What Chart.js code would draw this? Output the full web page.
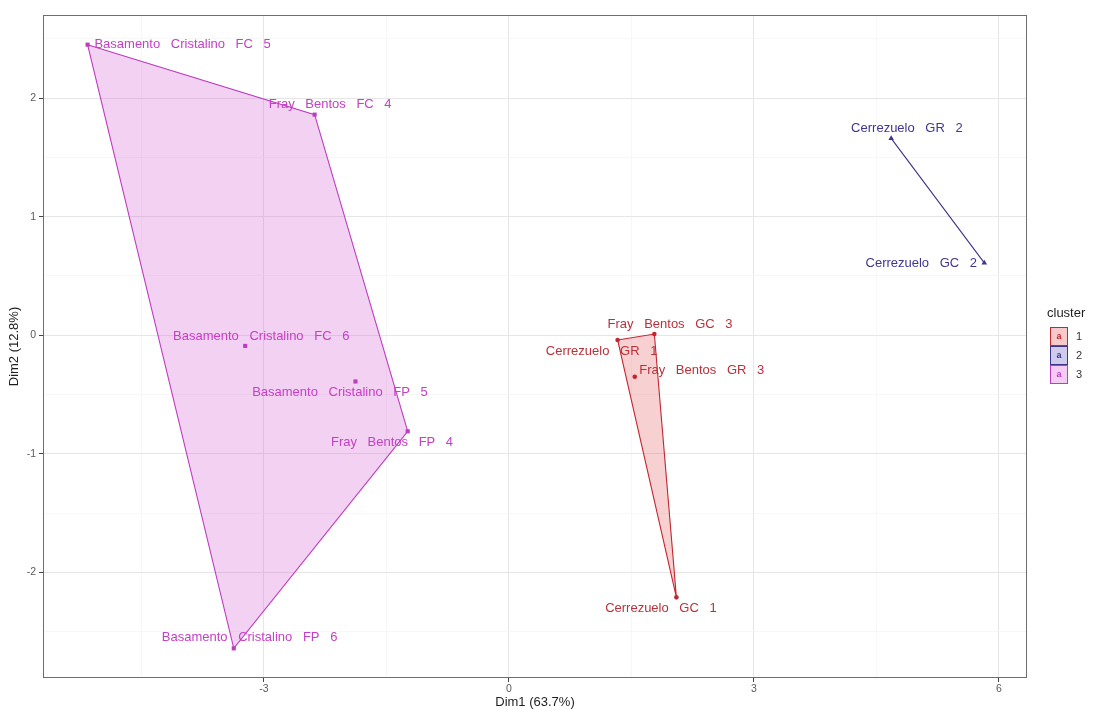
<!DOCTYPE html>
<html>
<head>
<meta charset="utf-8">
<script src="https://cdn.jsdelivr.net/npm/chart.js@4/dist/chart.umd.min.js"></script>
<style>
  html, body { margin: 0; padding: 0; background: #ffffff; }
  canvas { display: block; }
</style>
</head>
<body>
<canvas id="clusterPlot" width="1096" height="710"></canvas>
<script>
// ---- data: PCA coordinates of each sample and its k-means cluster ----
const sampleNames = [
  'Basamento Cristalino FC 5',
  'Fray Bentos FC 4',
  'Basamento Cristalino FC 6',
  'Basamento Cristalino FP 5',
  'Fray Bentos FP 4',
  'Basamento Cristalino FP 6',
  'Cerrezuelo GR 1',
  'Fray Bentos GC 3',
  'Fray Bentos GR 3',
  'Cerrezuelo GC 1',
  'Cerrezuelo GR 2',
  'Cerrezuelo GC 2'
];
const dim1 = [-5.16, -2.38, -3.23, -1.88, -1.24, -3.37, 1.33, 1.78, 1.54, 2.05, 4.68, 5.82];
const dim2 = [2.45, 1.86, -0.09, -0.39, -0.81, -2.64, -0.04, 0.01, -0.35, -2.21, 1.66, 0.61];
const clusterOf = [3, 3, 3, 3, 3, 3, 1, 1, 1, 1, 2, 2];
const clusterIds = [1, 2, 3];

const xMajorTicks = [-3, 0, 3, 6];
const xMinorTicks = [-4.5, -1.5, 1.5, 4.5];
const yMajorTicks = [-2, -1, 0, 1, 2];
const yMinorTicks = [-2.5, -1.5, -0.5, 0.5, 1.5, 2.5];
const xTitle = 'Dim1 (63.7%)';
const yTitle = 'Dim2 (12.8%)';
const legendTitle = 'cluster';

// ---- styling ----
const clusterStyle = {
  1: { line: '#C3262F', text: '#B8323B', fill: 'rgba(222,58,68,0.24)', key: '#F7C9CB', shape: 'circle',   radius: 2.3 },
  2: { line: '#3D3391', text: '#3F368F', fill: 'rgba(70,60,170,0.22)', key: '#CFCBEA', shape: 'triangle', radius: 3.2 },
  3: { line: '#BD3CBD', text: '#C440C4', fill: 'rgba(206,64,206,0.24)', key: '#F3CBF3', shape: 'rect',     radius: 2.9 }
};
// label nudges (pixels from the point to the label centre), like a repel layout
const labelNudge = {
  'Basamento Cristalino FC 5': [95, 0],
  'Fray Bentos FC 4': [15.5, -10],
  'Basamento Cristalino FC 6': [16, -9.7],
  'Basamento Cristalino FP 5': [-15.5, 11],
  'Fray Bentos FP 4': [-15.7, 11.6],
  'Basamento Cristalino FP 6': [15.8, -10.6],
  'Cerrezuelo GR 1': [-16, 11.6],
  'Fray Bentos GC 3': [15.7, -9.7],
  'Fray Bentos GR 3': [67, -6],
  'Cerrezuelo GC 1': [-15.5, 11.3],
  'Cerrezuelo GR 2': [15.7, -9.7],
  'Cerrezuelo GC 2': [-63, 0.7]
};
const FONT = '"Liberation Sans", Arial, Helvetica, sans-serif';

// ---- convex hull (monotone chain) of a cluster's points ----
function convexHull(pts) {
  const p = pts.slice().sort((a, b) => a.x - b.x || a.y - b.y);
  if (p.length < 3) return p;
  const cross = (o, a, b) => (a.x - o.x) * (b.y - o.y) - (a.y - o.y) * (b.x - o.x);
  const lower = [];
  for (const q of p) {
    while (lower.length >= 2 && cross(lower[lower.length - 2], lower[lower.length - 1], q) <= 0) lower.pop();
    lower.push(q);
  }
  const upper = [];
  for (let i = p.length - 1; i >= 0; i--) {
    const q = p[i];
    while (upper.length >= 2 && cross(upper[upper.length - 2], upper[upper.length - 1], q) <= 0) upper.pop();
    upper.push(q);
  }
  upper.pop(); lower.pop();
  return lower.concat(upper);
}

function clusterPoints(c) {
  const out = [];
  sampleNames.forEach((name, i) => {
    if (clusterOf[i] === c) out.push({ x: dim1[i], y: dim2[i], name });
  });
  return out;
}

const datasets = [];
clusterIds.forEach(c => {
  const st = clusterStyle[c];
  const pts = clusterPoints(c);
  const hull = convexHull(pts);
  const ring = hull.concat([hull[0]]);
  datasets.push({
    type: 'line',
    label: 'hull ' + c,
    data: ring,
    borderColor: st.line,
    borderWidth: 1.1,
    backgroundColor: st.fill,
    fill: pts.length > 2 ? 'shape' : false,
    pointRadius: 0,
    tension: 0,
    order: 2
  });
});
clusterIds.forEach(c => {
  const st = clusterStyle[c];
  datasets.push({
    type: 'scatter',
    label: String(c),
    cluster: c,
    data: clusterPoints(c),
    pointStyle: st.shape,
    pointRadius: st.radius,
    pointBackgroundColor: st.line,
    pointBorderColor: st.line,
    pointBorderWidth: 0,
    order: 1
  });
});

const isIn = (arr, v) => arr.some(t => Math.abs(t - v) < 1e-9);

function axisOptions(major, minor, lo, hi) {
  const all = major.concat(minor).sort((a, b) => a - b);
  return {
    type: 'linear',
    min: lo,
    max: hi,
    afterBuildTicks: s => { s.ticks = all.map(v => ({ value: v })); },
    grid: {
      color: ctx => (ctx.tick && isIn(major, ctx.tick.value)) ? '#E6E6E6' : '#F3F3F3',
      lineWidth: ctx => (ctx.tick && isIn(major, ctx.tick.value)) ? 1 : 0.7,
      tickColor: ctx => (ctx.tick && isIn(major, ctx.tick.value)) ? '#444444' : 'rgba(0,0,0,0)',
      tickLength: 4,
      drawTicks: true
    },
    border: { display: false },
    ticks: {
      autoSkip: false,
      maxRotation: 0,
      color: '#5A5A5A',
      font: { family: FONT, size: 10.5 },
      callback: v => isIn(major, v) ? String(v) : ''
    }
  };
}

const xAxis = axisOptions(xMajorTicks, xMinorTicks, -5.706, 6.343);
xAxis.ticks.padding = 1;
xAxis.afterFit = s => { s.height = 32; };
const yAxis = axisOptions(yMajorTicks, yMinorTicks, -2.89, 2.70);
yAxis.ticks.padding = 3;
yAxis.afterFit = s => { s.width = 43; };

// point labels drawn next to each sample
const pointLabels = {
  id: 'pointLabels',
  afterDatasetsDraw(chart) {
    const ctx = chart.ctx;
    ctx.save();
    ctx.font = '13px ' + FONT;
    if ('wordSpacing' in ctx) ctx.wordSpacing = '7px';
    ctx.textAlign = 'center';
    ctx.textBaseline = 'middle';
    chart.data.datasets.forEach((ds, di) => {
      if (ds.type !== 'scatter') return;
      const meta = chart.getDatasetMeta(di);
      ctx.fillStyle = clusterStyle[ds.cluster].text;
      meta.data.forEach((el, i) => {
        const name = ds.data[i].name;
        const [dx, dy] = labelNudge[name] || [0, -10];
        const txt = ('wordSpacing' in ctx) ? name : name.split(' ').join('   ');
        ctx.fillText(txt, el.x + dx, el.y + dy);
      });
    });
    ctx.restore();
  }
};

// panel border, axis titles and cluster legend
const frame = {
  id: 'frame',
  afterDraw(chart) {
    const ctx = chart.ctx;
    const a = chart.chartArea;
    ctx.save();
    ctx.strokeStyle = '#6E6E6E';
    ctx.lineWidth = 1;
    ctx.strokeRect(Math.round(a.left) + 0.5, Math.round(a.top) + 0.5,
                   Math.round(a.right - a.left) - 1, Math.round(a.bottom - a.top) - 1);

    ctx.fillStyle = '#1E1E1E';
    ctx.font = '13px ' + FONT;
    ctx.textAlign = 'center';
    ctx.textBaseline = 'middle';
    ctx.fillText(xTitle, (a.left + a.right) / 2, 702);
    ctx.save();
    ctx.translate(14, (a.top + a.bottom) / 2);
    ctx.rotate(-Math.PI / 2);
    ctx.fillText(yTitle, 0, 0);
    ctx.restore();

    // legend
    ctx.textAlign = 'left';
    ctx.fillStyle = '#1E1E1E';
    ctx.font = '13px ' + FONT;
    ctx.fillText(legendTitle, 1047, 313);
    const keyX = 1050, keyW = 18, keyH = 19, keyTop = 327;
    clusterIds.forEach((c, i) => {
      const st = clusterStyle[c];
      const y0 = keyTop + i * keyH;
      ctx.fillStyle = st.key;
      ctx.fillRect(keyX, y0, keyW, keyH);
      ctx.strokeStyle = st.line;
      ctx.lineWidth = 1;
      ctx.strokeRect(keyX + 0.5, y0 + 0.5, keyW - 1, keyH - 1);
      ctx.fillStyle = st.line;
      ctx.font = 'bold 9px ' + FONT;
      ctx.textAlign = 'center';
      ctx.fillText('a', keyX + keyW / 2, y0 + keyH / 2);
      ctx.fillStyle = '#333333';
      ctx.font = '11px ' + FONT;
      ctx.textAlign = 'left';
      ctx.fillText(String(c), keyX + 26, y0 + keyH / 2);
    });
    ctx.restore();
  }
};

new Chart(document.getElementById('clusterPlot'), {
  type: 'scatter',
  data: { datasets },
  options: {
    responsive: false,
    devicePixelRatio: 1,
    animation: false,
    events: [],
    layout: { padding: { left: 0, top: 15, right: 69, bottom: 0 } },
    scales: { x: xAxis, y: yAxis },
    plugins: {
      legend: { display: false },
      tooltip: { enabled: false }
    }
  },
  plugins: [pointLabels, frame]
});
</script>
</body>
</html>
